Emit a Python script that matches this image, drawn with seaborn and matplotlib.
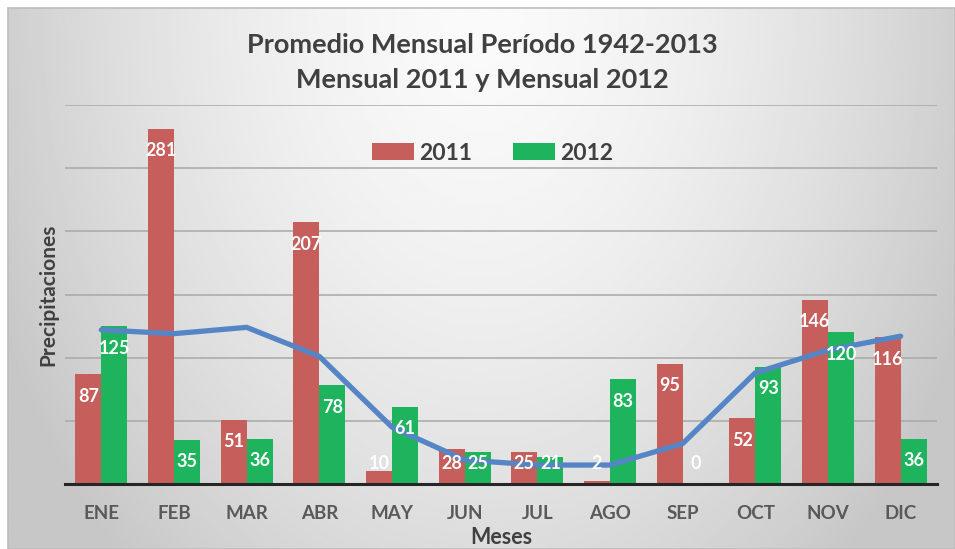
"""
Precipitaciones mensuales: promedio 1942-2013 frente a 2011 y 2012.
Barras agrupadas (seaborn) + linea del promedio, estilo grafico de Excel.
"""

import numpy as np
import pandas as pd
import matplotlib.pyplot as plt
import seaborn as sns
from matplotlib.patches import Rectangle

meses = ["ENE", "FEB", "MAR", "ABR", "MAY", "JUN",
         "JUL", "AGO", "SEP", "OCT", "NOV", "DIC"]
lluvia_2011 = [87, 281, 51, 207, 10, 28, 25, 2, 95, 52, 146, 116]
lluvia_2012 = [125, 35, 36, 78, 61, 25, 21, 83, 0, 93, 120, 36]
promedio = [122, 119, 124, 101, 45, 19, 15, 15, 32, 88, 106, 117]
anios = ["2011", "2012"]

colores = {"2011": "#C65E5B", "2012": "#1EB45E"}
TEXTO = "#404040"

W, H = 955, 549


def fondo(fig):
    # degradado gris, mas claro arriba al centro
    bg = fig.add_axes([0, 0, 1, 1], zorder=-10)
    bg.set_axis_off()
    yy, xx = np.mgrid[0:1:300j, 0:1:500j]
    d = np.sqrt(((xx - 0.5) / 0.5) ** 2 * 0.85 + (yy / 1.0) ** 2 * 0.55)
    val = np.clip(0.98 - 0.19 * d ** 1.6, 0.78, 1)
    left, top = 8 / W, 1 - 8 / H
    bg.imshow(val, cmap="gray", vmin=0, vmax=1, origin="upper",
              extent=[left, 1, 0, top], aspect="auto")
    bg.add_patch(Rectangle((left, 0), 1 - left, top, fill=False,
                           ec="#BDBDBD", lw=1.2))
    bg.set_xlim(0, 1)
    bg.set_ylim(0, 1)


def main():
    sns.set_theme(style="white")
    plt.rcParams["font.family"] = ["Lato", "DejaVu Sans"]

    fig = plt.figure(figsize=(W / 100, H / 100), dpi=100)
    fondo(fig)

    ax = fig.add_axes([65 / W, (H - 484) / H, 872 / W, 379 / H])
    ax.patch.set_alpha(0)

    df = pd.DataFrame({
        "Mes": meses * 2,
        "Anio": [anios[0]] * 12 + [anios[1]] * 12,
        "Valor": lluvia_2011 + lluvia_2012,
    })
    sns.barplot(data=df, x="Mes", y="Valor", hue="Anio", order=meses,
                hue_order=anios, palette=colores, width=0.72,
                saturation=1, linewidth=0, ax=ax, zorder=2)
    sns.lineplot(x=np.arange(len(meses)), y=promedio, color="#5585C5",
                 lw=3.8, ax=ax, zorder=4, legend=False)

    # etiquetas dentro del extremo de cada barra
    for cont, vals in zip(ax.containers, [lluvia_2011, lluvia_2012]):
        for bar, v in zip(cont, vals):
            xc = bar.get_x() + bar.get_width() / 2
            ax.text(xc, max(v - 17.4, 16), str(v), ha="center", va="center",
                    color="white", fontsize=13, fontweight="bold", zorder=6)

    ax.set_ylim(0, 300)
    ax.set_xlim(-0.5, len(meses) - 0.5)
    ax.set_yticks(np.arange(0, 301, 50))
    ax.set_yticklabels([])
    ax.yaxis.grid(True, color="#A8A8A8", lw=1.1, zorder=0)
    ax.set_axisbelow(True)
    for s in ["top", "right", "left"]:
        ax.spines[s].set_visible(False)
    ax.spines["bottom"].set_color("#262626")
    ax.spines["bottom"].set_linewidth(2.2)
    ax.spines["bottom"].set_zorder(5)
    ax.tick_params(axis="x", length=0, pad=15, labelsize=13.5, labelcolor="#595959")
    for lab in ax.get_xticklabels():
        lab.set_fontweight("bold")

    ax.set_xlabel("Meses", fontsize=15.5, fontweight="bold", color=TEXTO)
    ax.xaxis.set_label_coords(0.5, -(537 - 484) / 379)
    ax.set_ylabel("Precipitaciones", fontsize=15, fontweight="bold", color=TEXTO)
    ax.yaxis.set_label_coords(-(65 - 48) / 872, 0.5)
    ax.yaxis.label.set_va("center")
    ax.xaxis.label.set_va("center")

    ax.legend(loc="center", bbox_to_anchor=(0.49, 0.873), ncol=2,
              frameon=False, handlelength=1.85, handleheight=0.72,
              columnspacing=1.8, handletextpad=0.2,
              prop={"weight": "bold", "size": 16.5})
    for t in ax.get_legend().get_texts():
        t.set_color(TEXTO)

    fig.text(482 / W, 1 - 45 / H, "Promedio Mensual Período 1942-2013",
             ha="center", va="center", fontsize=19.5, fontweight="bold", color=TEXTO)
    fig.text(482 / W, 1 - 80 / H, "Mensual 2011 y Mensual 2012",
             ha="center", va="center", fontsize=19.5, fontweight="bold", color=TEXTO)

    fig.savefig("out.png", dpi=100)
    plt.close(fig)


if __name__ == "__main__":
    main()
